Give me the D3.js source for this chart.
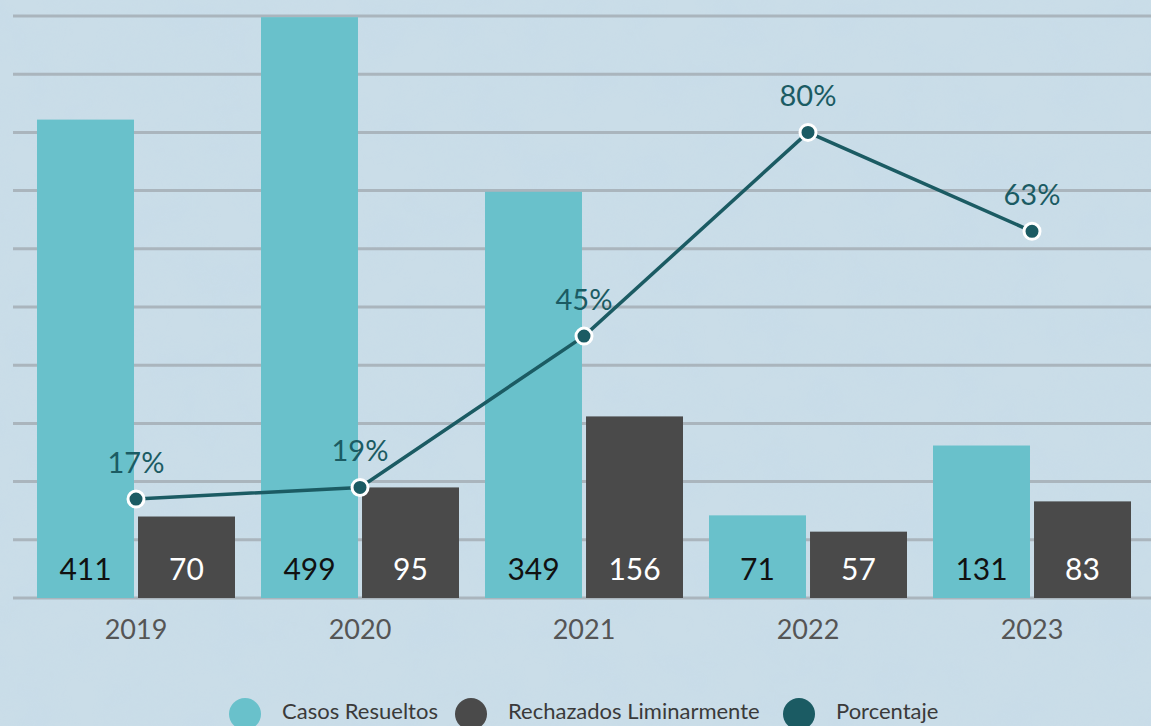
<!DOCTYPE html>
<html>
<head>
<meta charset="utf-8">
<script src="https://cdn.jsdelivr.net/npm/d3@7"></script>
<style>
  html, body { margin: 0; padding: 0; background: #cadde8; overflow: hidden; }
  svg { display: block; }
</style>
</head>
<body>
<div id="chart"></div>
<script>
const years = ['2019', '2020', '2021', '2022', '2023']
const casosResueltos = [411, 499, 349, 71, 131]
const rechazados = [70, 95, 156, 57, 83]
const porcentaje = [17, 19, 45, 80, 63]
const seriesNames = ['Casos Resueltos', 'Rechazados Liminarmente', 'Porcentaje']
const gridTicks = [0, 50, 100, 150, 200, 250, 300, 350, 400, 450, 500]

const layout = { width: 1151, height: 726, left: 13, baseline: 598, top: 16 }
const colors = { casos: '#69c1cb', rechazados: '#4a4a4a', line: '#1b5b63', grid: '#aab5bd', bg: '#cadde8' }
const font = 'Lato, "Open Sans", sans-serif'

const svg = d3.select('#chart').append('svg')
  .attr('width', layout.width)
  .attr('height', layout.height)
  .attr('xmlns', 'http://www.w3.org/2000/svg')

// paper-like background texture
const defs = svg.append('defs')
const paper = defs.append('filter').attr('id', 'paper').attr('x', 0).attr('y', 0).attr('width', '100%').attr('height', '100%')
paper.append('feTurbulence').attr('type', 'fractalNoise').attr('baseFrequency', 0.02).attr('numOctaves', 4).attr('seed', 7).attr('result', 'noise')
paper.append('feColorMatrix').attr('type', 'matrix')
  .attr('values', '0 0 0 0 0.55  0 0 0 0 0.70  0 0 0 0 0.82  0 0 0 -1.1 0.75')
svg.append('rect').attr('width', layout.width).attr('height', layout.height).attr('fill', colors.bg)
svg.append('rect').attr('width', layout.width).attr('height', layout.height).attr('filter', 'url(#paper)').attr('opacity', 0.5)

const y = d3.scaleLinear().domain([0, 500]).range([layout.baseline, layout.top])
const yPct = d3.scaleLinear().domain([0, 100]).range([layout.baseline, layout.top])
const x0 = d3.scaleBand().domain(years).range([24, 1144]).padding(0)
const x1 = d3.scaleBand().domain(['casos', 'rechazados']).range([13, 211]).paddingInner(0.04)

// grid
svg.append('g').selectAll('line')
  .data(gridTicks)
  .enter().append('line')
  .attr('x1', layout.left).attr('x2', layout.width)
  .attr('y1', d => y(d)).attr('y2', d => y(d))
  .attr('stroke', colors.grid).attr('stroke-width', 3)

const rows = years.map((yr, i) => ({
  year: yr,
  bars: [
    { key: 'casos', value: casosResueltos[i] },
    { key: 'rechazados', value: rechazados[i] }
  ],
  pct: porcentaje[i]
}))

const groups = svg.append('g').selectAll('g')
  .data(rows)
  .enter().append('g')
  .attr('transform', d => `translate(${x0(d.year)},0)`)

groups.selectAll('rect')
  .data(d => d.bars)
  .enter().append('rect')
  .attr('x', d => x1(d.key))
  .attr('width', x1.bandwidth())
  .attr('y', d => y(d.value))
  .attr('height', d => layout.baseline - y(d.value))
  .attr('fill', d => colors[d.key])

groups.selectAll('text.val')
  .data(d => d.bars)
  .enter().append('text')
  .attr('class', 'val')
  .attr('x', d => x1(d.key) + x1.bandwidth() / 2)
  .attr('y', 580)
  .attr('text-anchor', 'middle')
  .attr('font-family', font)
  .attr('font-size', 30)
  .attr('fill', d => d.key === 'casos' ? '#111' : '#fff')
  .text(d => d.value)

groups.append('text')
  .attr('x', x0.bandwidth() / 2)
  .attr('y', 639)
  .attr('text-anchor', 'middle')
  .attr('font-family', font)
  .attr('font-size', 27)
  .attr('fill', '#555')
  .text(d => d.year)

// percentage line
const cx = d => x0(d.year) + x0.bandwidth() / 2
const line = d3.line().x(cx).y(d => yPct(d.pct))

svg.append('path')
  .datum(rows)
  .attr('d', line)
  .attr('fill', 'none')
  .attr('stroke', colors.line)
  .attr('stroke-width', 3.5)

svg.append('g').selectAll('circle')
  .data(rows)
  .enter().append('circle')
  .attr('cx', cx)
  .attr('cy', d => yPct(d.pct))
  .attr('r', 8)
  .attr('fill', colors.line)
  .attr('stroke', '#fff')
  .attr('stroke-width', 3)

svg.append('g').selectAll('text')
  .data(rows)
  .enter().append('text')
  .attr('x', cx)
  .attr('y', d => yPct(d.pct) - 26)
  .attr('text-anchor', 'middle')
  .attr('font-family', font)
  .attr('font-size', 29)
  .attr('fill', colors.line)
  .text(d => d.pct + '%')

// legend
const legendItems = [
  { name: seriesNames[0], color: colors.casos, x: 245 },
  { name: seriesNames[1], color: colors.rechazados, x: 471 },
  { name: seriesNames[2], color: colors.line, x: 799 }
]
const legend = svg.append('g').selectAll('g')
  .data(legendItems)
  .enter().append('g')
  .attr('transform', d => `translate(${d.x},714)`)
legend.append('circle').attr('r', 16).attr('fill', d => d.color)
legend.append('text')
  .attr('x', 37)
  .attr('y', 5)
  .attr('font-family', font)
  .attr('font-size', 22)
  .attr('fill', '#3a3a3a')
  .text(d => d.name)
</script>
</body>
</html>
